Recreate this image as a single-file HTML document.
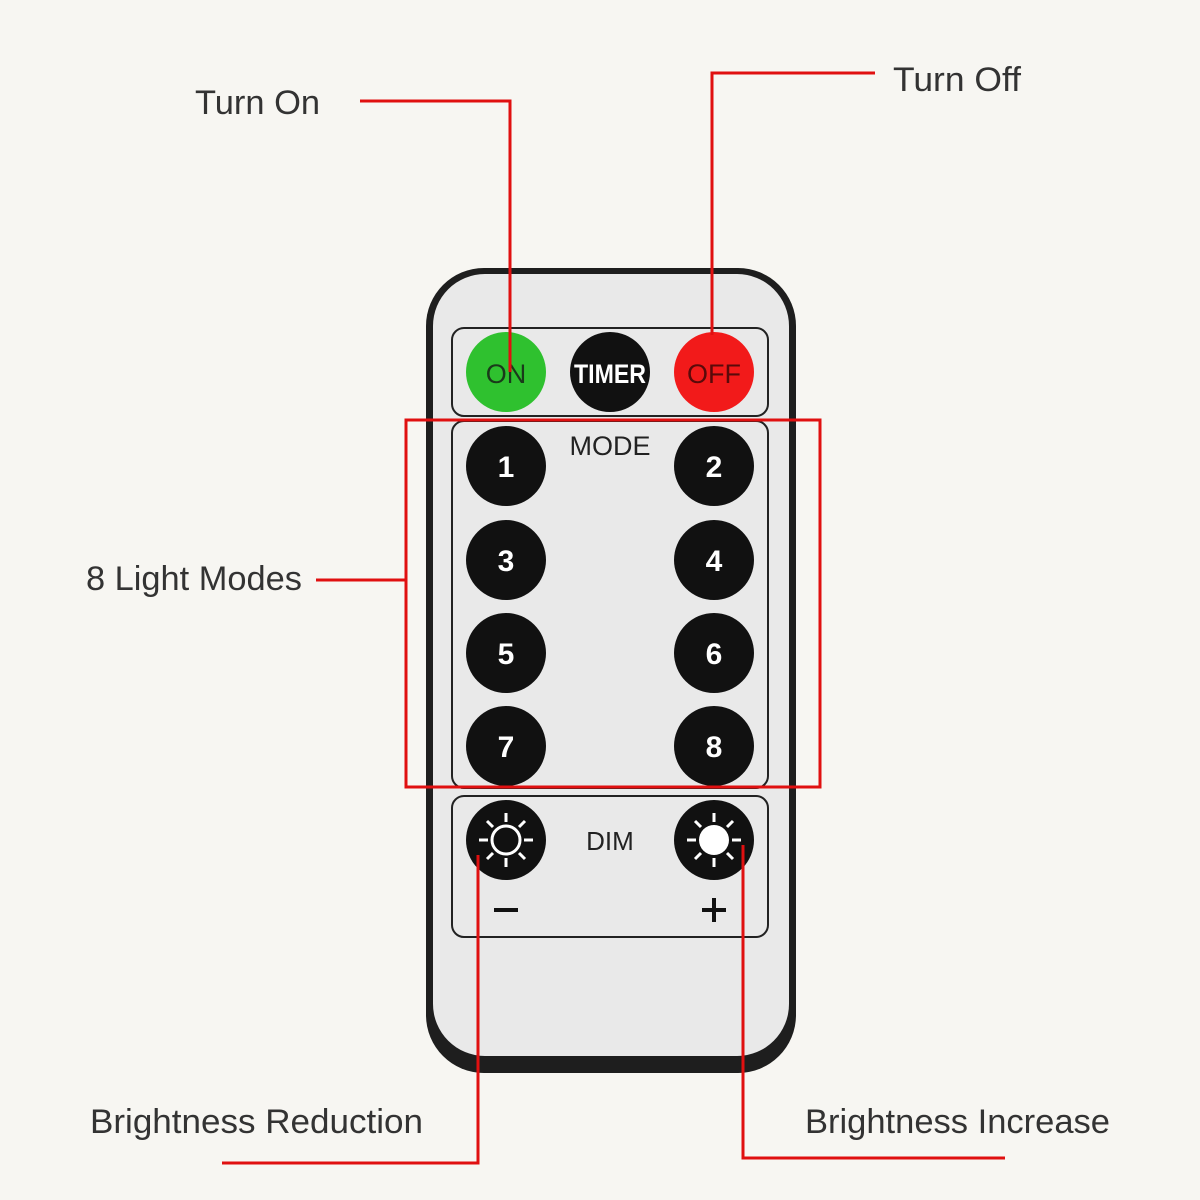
<!DOCTYPE html>
<html><head><style>
body{margin:0;background:#f7f6f2;}
svg{display:block}
text{font-family:"Liberation Sans",sans-serif;}
</style></head><body>
<svg width="1200" height="1200" viewBox="0 0 1200 1200">
<rect width="1200" height="1200" fill="#f7f6f2"/>
<!-- remote -->
<rect x="426" y="268" width="370" height="805" rx="58" fill="#1e1e1e"/>
<rect x="433" y="274" width="356" height="782" rx="52" fill="#e9e9e9"/>
<rect x="452" y="328" width="316" height="88" rx="12" fill="none" stroke="#222" stroke-width="2"/>
<rect x="452" y="421" width="316" height="367" rx="12" fill="none" stroke="#222" stroke-width="2"/>
<rect x="452" y="796" width="316" height="141" rx="12" fill="none" stroke="#222" stroke-width="2"/>
<circle cx="506" cy="372" r="40" fill="#2fc12f"/>
<circle cx="610" cy="372" r="40" fill="#111"/>
<circle cx="714" cy="372" r="40" fill="#f21a1a"/>
<text x="506" y="383" font-size="27" text-anchor="middle" fill="#1a3a1a">ON</text>
<text x="610" y="383" font-size="27" font-weight="bold" text-anchor="middle" fill="#fff" textLength="72" lengthAdjust="spacingAndGlyphs">TIMER</text>
<text x="714" y="383" font-size="27" text-anchor="middle" fill="#5a0a0a">OFF</text>
<text x="610" y="455" font-size="27" text-anchor="middle" fill="#222">MODE</text>
<g fill="#111">
<circle cx="506" cy="466" r="40"/><circle cx="714" cy="466" r="40"/>
<circle cx="506" cy="560" r="40"/><circle cx="714" cy="560" r="40"/>
<circle cx="506" cy="653" r="40"/><circle cx="714" cy="653" r="40"/>
<circle cx="506" cy="746" r="40"/><circle cx="714" cy="746" r="40"/>
</g>
<g font-size="30" font-weight="bold" fill="#fff" text-anchor="middle">
<text x="506" y="477">1</text><text x="714" y="477">2</text>
<text x="506" y="571">3</text><text x="714" y="571">4</text>
<text x="506" y="664">5</text><text x="714" y="664">6</text>
<text x="506" y="757">7</text><text x="714" y="757">8</text>
</g>
<text x="610" y="850" font-size="26" text-anchor="middle" fill="#222">DIM</text>
<circle cx="506" cy="840" r="40" fill="#111"/>
<circle cx="714" cy="840" r="40" fill="#111"/>
<g stroke="#fff" stroke-width="3" fill="none">
<circle cx="506" cy="840" r="14"/>
<g transform="translate(506 840)">
<line x1="0" y1="-18" x2="0" y2="-27"/><line x1="0" y1="18" x2="0" y2="27"/><line x1="-18" y1="0" x2="-27" y2="0"/><line x1="18" y1="0" x2="27" y2="0"/>
<line x1="13" y1="13" x2="19" y2="19"/><line x1="-13" y1="13" x2="-19" y2="19"/><line x1="13" y1="-13" x2="19" y2="-19"/><line x1="-13" y1="-13" x2="-19" y2="-19"/>
</g>
<g transform="translate(714 840)">
<line x1="0" y1="-18" x2="0" y2="-27"/><line x1="0" y1="18" x2="0" y2="27"/><line x1="-18" y1="0" x2="-27" y2="0"/><line x1="18" y1="0" x2="27" y2="0"/>
<line x1="13" y1="13" x2="19" y2="19"/><line x1="-13" y1="13" x2="-19" y2="19"/><line x1="13" y1="-13" x2="19" y2="-19"/><line x1="-13" y1="-13" x2="-19" y2="-19"/>
</g>
</g>
<circle cx="714" cy="840" r="15" fill="#fff"/>
<g stroke="#111" stroke-width="4">
<line x1="494" y1="910" x2="518" y2="910"/>
<line x1="702" y1="910" x2="726" y2="910"/><line x1="714" y1="898" x2="714" y2="922"/>
</g>
<!-- red annotations -->
<g stroke="#e01010" stroke-width="3" fill="none">
<polyline points="360,101 510,101 510,372"/>
<polyline points="875,73 712,73 712,335"/>
<rect x="406" y="420" width="414" height="367"/>
<line x1="316" y1="580" x2="406" y2="580"/>
<polyline points="478,855 478,1163 222,1163"/>
<polyline points="743,845 743,1158 1005,1158"/>
</g>
<g font-size="34" fill="#333">
<text x="195" y="114" textLength="125" lengthAdjust="spacingAndGlyphs">Turn On</text>
<text x="893" y="91" textLength="128" lengthAdjust="spacingAndGlyphs">Turn Off</text>
<text x="86" y="590" textLength="216" lengthAdjust="spacingAndGlyphs">8 Light Modes</text>
<text x="90" y="1133" textLength="333" lengthAdjust="spacingAndGlyphs">Brightness Reduction</text>
<text x="805" y="1133" textLength="305" lengthAdjust="spacingAndGlyphs">Brightness Increase</text>
</g>
</svg>
</body></html>
